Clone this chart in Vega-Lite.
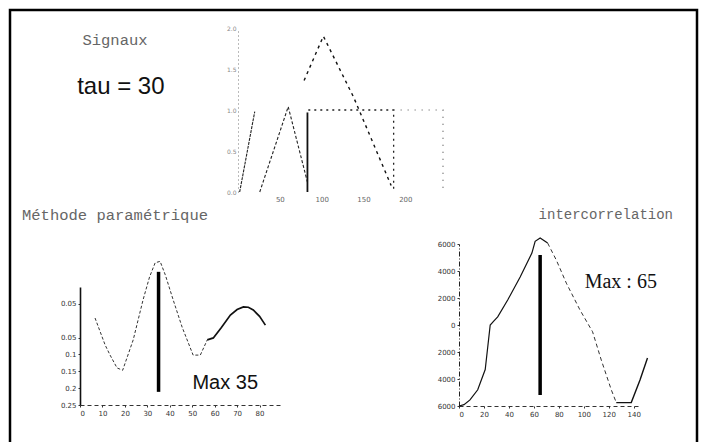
{
  "$schema": "https://vega.github.io/schema/vega-lite/v6.json",
  "width": 687,
  "height": 440,
  "autosize": {"type": "none"},
  "padding": {"left": 10, "top": 10, "right": 16, "bottom": 0},
  "background": "white",
  "config": {
    "view": {"stroke": "#000", "strokeWidth": 2.5},
    "axis": {"grid": false, "labelFont": "DejaVu Sans", "labelOverlap": false, "title": null}
  },
  "datasets": {
    "sig": [
      {"s": "A", "i": 1, "x": 2, "y": 0}, {"s": "A", "i": 2, "x": 20, "y": 0.98},
      {"s": "B", "i": 1, "x": 26, "y": 0}, {"s": "B", "i": 2, "x": 60, "y": 1.04}, {"s": "B", "i": 3, "x": 83, "y": 0.12},
      {"s": "C", "i": 1, "x": 83, "y": 0}, {"s": "C", "i": 2, "x": 83, "y": 0.97},
      {"s": "D", "i": 1, "x": 84, "y": 1}, {"s": "D", "i": 2, "x": 186, "y": 1}, {"s": "D", "i": 3, "x": 186, "y": 0},
      {"s": "E", "i": 1, "x": 79, "y": 1.36}, {"s": "E", "i": 2, "x": 102, "y": 1.9}, {"s": "E", "i": 3, "x": 138, "y": 1.16}, {"s": "E", "i": 4, "x": 183, "y": 0.08},
      {"s": "F", "i": 1, "x": 186, "y": 1}, {"s": "F", "i": 2, "x": 245, "y": 1}, {"s": "F", "i": 3, "x": 245, "y": 0}
    ],
    "sigtxt": [
      {"k": "title", "x": -147, "y": 1.85, "label": "Signaux"},
      {"k": "big", "x": -140, "y": 1.28, "label": "tau = 30"}
    ],
    "pm": [
      {"s": "a", "x": 6.7, "y": 0.008}, {"s": "a", "x": 11.2, "y": -0.072}, {"s": "a", "x": 13.4, "y": -0.102},
      {"s": "a", "x": 16.5, "y": -0.14}, {"s": "a", "x": 19, "y": -0.147}, {"s": "a", "x": 23.7, "y": -0.057},
      {"s": "a", "x": 28.1, "y": 0.062}, {"s": "a", "x": 31, "y": 0.13}, {"s": "a", "x": 33.5, "y": 0.172},
      {"s": "a", "x": 35.7, "y": 0.176}, {"s": "a", "x": 38, "y": 0.136}, {"s": "a", "x": 41.5, "y": 0.062},
      {"s": "a", "x": 45.5, "y": -0.019}, {"s": "a", "x": 50.4, "y": -0.102}, {"s": "a", "x": 53.6, "y": -0.102},
      {"s": "a", "x": 56.7, "y": -0.057},
      {"s": "b", "x": 56.7, "y": -0.057}, {"s": "b", "x": 59.4, "y": -0.051}, {"s": "b", "x": 63, "y": -0.02},
      {"s": "b", "x": 67, "y": 0.017}, {"s": "b", "x": 70, "y": 0.033}, {"s": "b", "x": 72.8, "y": 0.041},
      {"s": "b", "x": 75, "y": 0.04}, {"s": "b", "x": 77.2, "y": 0.032}, {"s": "b", "x": 80, "y": 0.013},
      {"s": "b", "x": 82.6, "y": -0.013}
    ],
    "pmbar": [{"x": 35, "y": -0.211, "y2": 0.145}],
    "pmtxt": [
      {"k": "title", "x": 15.6, "y": 0.314, "label": "Méthode paramétrique"},
      {"k": "big", "x": 64.7, "y": -0.185, "label": "Max   35"}
    ],
    "ic": [
      {"s": "s1", "x": 0, "y": -6000}, {"s": "s1", "x": 4, "y": -5900}, {"s": "s1", "x": 8.8, "y": -5550},
      {"s": "s1", "x": 15, "y": -4800}, {"s": "s1", "x": 21, "y": -3300}, {"s": "s1", "x": 23, "y": -1650},
      {"s": "s1", "x": 25, "y": 0}, {"s": "s1", "x": 28, "y": 300}, {"s": "s1", "x": 31, "y": 600},
      {"s": "s1", "x": 39, "y": 1850}, {"s": "s1", "x": 49, "y": 3550}, {"s": "s1", "x": 58.4, "y": 5330},
      {"s": "s1", "x": 61, "y": 6200}, {"s": "s1", "x": 65, "y": 6450}, {"s": "s1", "x": 71, "y": 6070},
      {"s": "s2", "x": 71, "y": 6070}, {"s": "s2", "x": 78, "y": 4800}, {"s": "s2", "x": 86, "y": 3100},
      {"s": "s2", "x": 97, "y": 1100}, {"s": "s2", "x": 107, "y": -500}, {"s": "s2", "x": 114, "y": -2600},
      {"s": "s2", "x": 122, "y": -4800}, {"s": "s2", "x": 126, "y": -5750},
      {"s": "s3", "x": 126, "y": -5750}, {"s": "s3", "x": 138, "y": -5750}, {"s": "s3", "x": 145, "y": -4070},
      {"s": "s3", "x": 151, "y": -2440}
    ],
    "icbar": [{"x": 65, "y": -5185, "y2": 5185}],
    "ictxt": [
      {"k": "title", "x": 117.6, "y": 8150, "label": "intercorrelation"},
      {"k": "big", "x": 129.6, "y": 3185, "label": "Max : 65"}
    ]
  },
  "resolve": {
    "scale": {"x": "independent", "y": "independent"},
    "axis": {"x": "independent", "y": "independent"}
  },
  "layer": [
    {
      "encoding": {
        "x": {"field": "x", "type": "quantitative",
          "scale": {"domain": [0, 245], "range": [228, 433], "zero": false, "nice": false},
          "axis": {"orient": "bottom", "offset": -258, "values": [50, 100, 150, 200], "domain": false, "ticks": false, "labelFontSize": 7, "labelColor": "#666", "labelPadding": 3}},
        "y": {"field": "y", "type": "quantitative",
          "scale": {"domain": [0, 2], "range": [182, 18], "zero": false, "nice": false},
          "axis": {"orient": "left", "offset": -228, "values": [0, 0.5, 1, 1.5, 2], "domainColor": "#777", "domainDash": [1, 3], "ticks": false, "labelFontSize": 6, "labelColor": "#888", "labelPadding": 2}}
      },
      "layer": [
        {"data": {"name": "sig"}, "transform": [{"filter": "datum.s == 'A'"}],
         "mark": {"type": "line", "color": "#222", "strokeWidth": 1.1, "strokeDash": [3, 1]},
         "encoding": {"order": {"field": "i"}}},
        {"data": {"name": "sig"}, "transform": [{"filter": "datum.s == 'B'"}],
         "mark": {"type": "line", "color": "#222", "strokeWidth": 1.1, "strokeDash": [3, 2]},
         "encoding": {"order": {"field": "i"}}},
        {"data": {"name": "sig"}, "transform": [{"filter": "datum.s == 'C'"}],
         "mark": {"type": "line", "color": "#111", "strokeWidth": 1.8},
         "encoding": {"order": {"field": "i"}}},
        {"data": {"name": "sig"}, "transform": [{"filter": "datum.s == 'D'"}],
         "mark": {"type": "line", "color": "#222", "strokeWidth": 1.3, "strokeDash": [2, 4]},
         "encoding": {"order": {"field": "i"}}},
        {"data": {"name": "sig"}, "transform": [{"filter": "datum.s == 'E'"}],
         "mark": {"type": "line", "color": "#111", "strokeWidth": 1.4, "strokeDash": [3, 4]},
         "encoding": {"order": {"field": "i"}}},
        {"data": {"name": "sig"}, "transform": [{"filter": "datum.s == 'F'"}],
         "mark": {"type": "line", "color": "#555", "strokeWidth": 1.2, "strokeDash": [1, 6]},
         "encoding": {"order": {"field": "i"}}},
        {"data": {"name": "sigtxt"}, "transform": [{"filter": "datum.k == 'title'"}],
         "mark": {"type": "text", "font": "Liberation Mono", "fontSize": 15.5, "color": "#666", "align": "center", "baseline": "middle"},
         "encoding": {"text": {"field": "label"}}},
        {"data": {"name": "sigtxt"}, "transform": [{"filter": "datum.k == 'big'"}],
         "mark": {"type": "text", "font": "Liberation Sans", "fontSize": 24, "color": "#111", "align": "center", "baseline": "middle"},
         "encoding": {"text": {"field": "label"}}}
      ]
    },
    {
      "encoding": {
        "x": {"field": "x", "type": "quantitative",
          "scale": {"domain": [0, 90], "range": [70, 272], "zero": false, "nice": false},
          "axis": {"orient": "bottom", "offset": -45, "values": [0, 10, 20, 30, 40, 50, 60, 70, 80], "domainDash": [4, 3], "domainColor": "#333", "tickSize": 2, "tickColor": "#333", "labelFontSize": 7, "labelColor": "#333", "labelPadding": 2}},
        "y": {"field": "y", "type": "quantitative",
          "scale": {"domain": [-0.25, 0.1], "range": [395, 277], "zero": false, "nice": false},
          "axis": {"orient": "left", "offset": -70, "values": [-0.25, -0.2, -0.15, -0.1, -0.05, 0.05], "labelExpr": "format(abs(datum.value), '~g')", "domainColor": "#111", "domainWidth": 1.6, "tickSize": 2, "tickColor": "#333", "labelFontSize": 7, "labelColor": "#333", "labelPadding": 2}}
      },
      "layer": [
        {"data": {"name": "pm"}, "transform": [{"filter": "datum.s == 'a'"}],
         "mark": {"type": "line", "color": "#333", "strokeWidth": 1, "strokeDash": [3, 2]},
         "encoding": {}},
        {"data": {"name": "pm"}, "transform": [{"filter": "datum.s == 'b'"}],
         "mark": {"type": "line", "color": "#111", "strokeWidth": 1.7},
         "encoding": {}},
        {"data": {"name": "pmbar"},
         "mark": {"type": "rule", "color": "#000", "strokeWidth": 3.5},
         "encoding": {"y2": {"field": "y2"}}},
        {"data": {"name": "pmtxt"}, "transform": [{"filter": "datum.k == 'title'"}],
         "mark": {"type": "text", "font": "Liberation Mono", "fontSize": 15.5, "color": "#666", "align": "center", "baseline": "middle"},
         "encoding": {"text": {"field": "label"}}},
        {"data": {"name": "pmtxt"}, "transform": [{"filter": "datum.k == 'big'"}],
         "mark": {"type": "text", "font": "Liberation Sans", "fontSize": 20, "color": "#111", "align": "center", "baseline": "middle"},
         "encoding": {"text": {"field": "label"}}}
      ]
    },
    {
      "encoding": {
        "x": {"field": "x", "type": "quantitative",
          "scale": {"domain": [0, 145], "range": [449, 630], "zero": false, "nice": false},
          "axis": {"orient": "bottom", "offset": -44, "values": [0, 20, 40, 60, 80, 100, 120, 140], "domainDash": [4, 3], "domainColor": "#333", "tickSize": 2, "tickColor": "#333", "labelFontSize": 7, "labelColor": "#333", "labelPadding": 2}},
        "y": {"field": "y", "type": "quantitative",
          "scale": {"domain": [-6000, 6000], "range": [396, 234], "zero": false, "nice": false},
          "axis": {"orient": "left", "offset": -449, "values": [-6000, -4000, -2000, 0, 2000, 4000, 6000], "labelExpr": "format(abs(datum.value), '~g')", "domainDash": [5, 2, 1, 2], "domainColor": "#222", "tickSize": 2, "tickColor": "#333", "labelFontSize": 7, "labelColor": "#333", "labelPadding": 2}}
      },
      "layer": [
        {"data": {"name": "ic"}, "transform": [{"filter": "datum.s == 's1'"}],
         "mark": {"type": "line", "color": "#111", "strokeWidth": 1.2},
         "encoding": {}},
        {"data": {"name": "ic"}, "transform": [{"filter": "datum.s == 's2'"}],
         "mark": {"type": "line", "color": "#333", "strokeWidth": 1, "strokeDash": [4, 3]},
         "encoding": {}},
        {"data": {"name": "ic"}, "transform": [{"filter": "datum.s == 's3'"}],
         "mark": {"type": "line", "color": "#111", "strokeWidth": 1.4},
         "encoding": {}},
        {"data": {"name": "icbar"},
         "mark": {"type": "rule", "color": "#000", "strokeWidth": 3.5},
         "encoding": {"y2": {"field": "y2"}}},
        {"data": {"name": "ictxt"}, "transform": [{"filter": "datum.k == 'title'"}],
         "mark": {"type": "text", "font": "Liberation Mono", "fontSize": 14, "color": "#666", "align": "center", "baseline": "middle"},
         "encoding": {"text": {"field": "label"}}},
        {"data": {"name": "ictxt"}, "transform": [{"filter": "datum.k == 'big'"}],
         "mark": {"type": "text", "font": "Liberation Serif", "fontSize": 20, "color": "#111", "align": "center", "baseline": "middle"},
         "encoding": {"text": {"field": "label"}}}
      ]
    }
  ]
}
